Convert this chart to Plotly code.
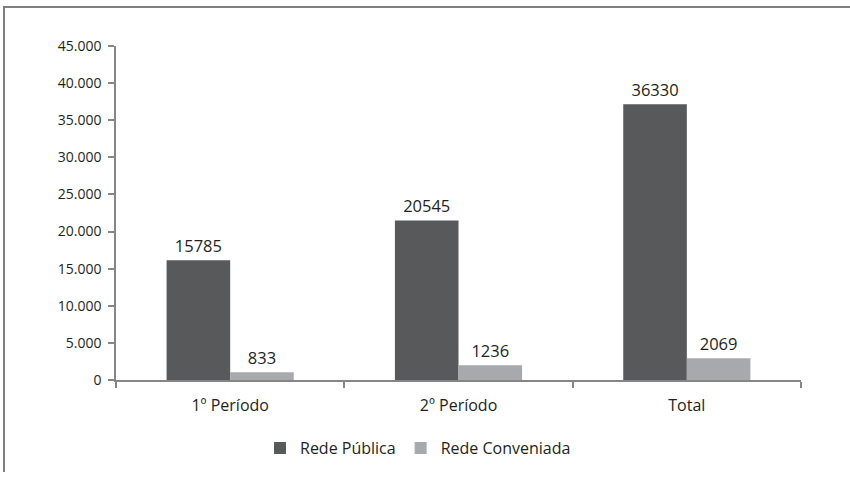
import plotly.graph_objects as go

categories = ["1º Período", "2º Período", "Total"]
series_names = ["Rede Pública", "Rede Conveniada"]
# bar heights as drawn in the reference
publica_values = [16120, 21500, 37150]
conveniada_values = [1040, 1980, 2920]
# data labels as printed in the reference
publica_labels = ["15785", "20545", "36330"]
conveniada_labels = ["833", "1236", "2069"]
y_tick_values = [0, 5000, 10000, 15000, 20000, 25000, 30000, 35000, 40000, 45000]

W, H = 850, 477
ML, MR, MT, MB = 116, 49, 46, 93
pw, ph = W - ML - MR, H - MT - MB

def px_x(p):
    return (p - ML) / pw

def px_y(p):
    return 1 - (p - MT) / ph

txt = "#231f20"
axis_col = "#868686"

fig = go.Figure()
fig.add_trace(go.Bar(x=categories, y=publica_values, name=series_names[0],
                     marker=dict(color="#58595b", line=dict(width=0)),
                     text=publica_labels, textposition="outside",
                     textfont=dict(size=16.5, color=txt), cliponaxis=False))
fig.add_trace(go.Bar(x=categories, y=conveniada_values, name=series_names[1],
                     marker=dict(color="#a7a9ac", line=dict(width=0)),
                     text=conveniada_labels, textposition="outside",
                     textfont=dict(size=16.5, color=txt), cliponaxis=False))

fig.update_layout(
    width=W, height=H,
    margin=dict(l=ML, r=MR, t=MT, b=MB, pad=0),
    paper_bgcolor="white", plot_bgcolor="white",
    font=dict(family="Open Sans, sans-serif", color=txt, size=14),
    separators=",.",
    barmode="group", bargap=0.443, bargroupgap=0,
    showlegend=True,
    legend=dict(orientation="h", x=px_x(418), xanchor="center", y=px_y(453), yanchor="middle",
                font=dict(size=16, color=txt), itemwidth=30, traceorder="normal"),
    xaxis=dict(showline=True, linecolor=axis_col, linewidth=1.5, ticks="outside",
               tickson="boundaries", ticklen=6, tickcolor=axis_col, tickwidth=1.5,
               ticklabelstandoff=10,
               tickfont=dict(size=16, color=txt), showgrid=False, zeroline=False),
    yaxis=dict(range=[0, 45000], tickvals=y_tick_values, tickformat=",d",
               showline=True, linecolor=axis_col, linewidth=1.5, ticks="outside",
               ticklen=6, tickcolor=axis_col, tickwidth=1.5, ticklabelstandoff=4,
               tickfont=dict(size=14, color=txt), showgrid=False, zeroline=False),
    shapes=[
        dict(type="line", xref="paper", yref="paper", x0=px_x(4), x1=px_x(4),
             y0=px_y(6), y1=px_y(H), line=dict(color="#7f7f7f", width=2)),
        dict(type="line", xref="paper", yref="paper", x0=px_x(3), x1=px_x(W),
             y0=px_y(6.5), y1=px_y(6.5), line=dict(color="#7f7f7f", width=2)),
    ],
)

fig.write_html("out.html")
